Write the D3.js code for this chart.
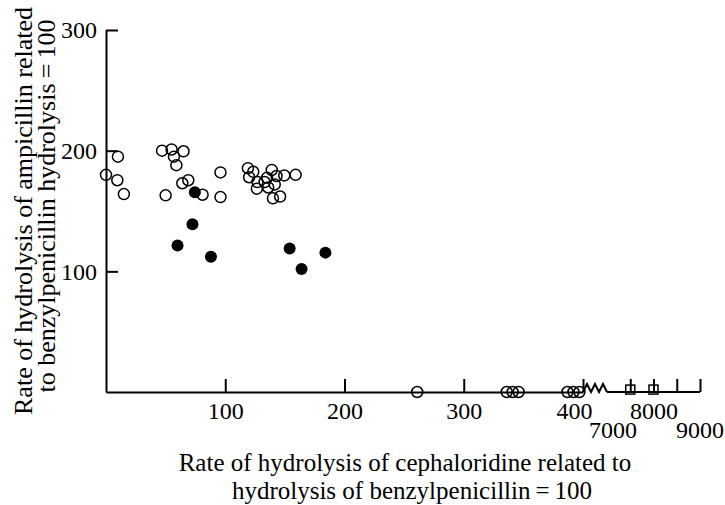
<!DOCTYPE html>
<html lang="en">
<head>
<meta charset="UTF-8">
<title>Ampicillin vs cephaloridine hydrolysis</title>
<script src="https://cdnjs.cloudflare.com/ajax/libs/d3/7.8.5/d3.min.js"></script>
<style>
    body { margin: 0; background: #fff; }
    svg { display: block; }
    .axis path, .axis line { stroke: #000; stroke-width: 2px; }
    .axis text { font-family: 'Liberation Serif', serif; fill: #000; }
    .title { font-family: 'Liberation Serif', serif; font-size: 26px; fill: #000; }
    .title.x { font-size: 25px; }
</style>
</head>
<body>
<svg id="chart" width="725" height="505"></svg>
<script>
// open circles: [cephaloridine rate, ampicillin rate]
const openPoints = [
    [10, 195], [0, 180], [9.5, 175.5], [15, 164],
    [47, 200], [55, 201], [65, 199.5], [57, 195], [59, 188],
    [64, 173], [69, 175.5], [50, 163], [81, 163.5],
    [96, 182], [96, 161.5],
    [119, 185.5], [123.5, 182.5], [120, 178], [127, 174], [126.5, 168.5],
    [139, 184], [135, 177.5], [143, 179], [136, 169.5], [141.5, 172],
    [149.5, 179.5], [159, 180], [140, 160.5], [146, 162], [133, 174]
];
// filled circles
const filledPoints = [
    [74.5, 165.5], [72.5, 139], [60, 121.5], [88, 112],
    [154, 119], [164, 102], [184, 115.5]
];
// open circles lying on the x axis
const axisPoints = [[261, 0], [336, 0], [341, 0], [346, 0], [387, 0], [392, 0], [397, 0]];
// squares beyond the axis break
const squarePoints = [[7500, 2], [8000, 2]];

const yTicks = [100, 200, 300];
const xTicks = [100, 200, 300, 400];
const xTicksHigh = [7500, 8000, 8500, 9000];
const xLabelsHighTop = [8000];
const xLabelsHighLow = [7000, 9000];

const svg = d3.select("#chart");

const y = d3.scaleLinear().domain([0, 300]).range([392, 30]);
const x = d3.scaleLinear().domain([0, 400]).range([106, 583]);
const xHigh = d3.scaleLinear().domain([7000, 9000]).range([607, 700]);

function styleAxis(g) {
    g.attr("font-family", "'Liberation Serif', serif").attr("font-size", 24);
}

// y axis, ticks pointing inward
svg.append("g")
    .attr("class", "axis")
    .attr("transform", `translate(${x(0)},0)`)
    .call(d3.axisLeft(y).tickValues(yTicks).tickSizeInner(-12).tickSizeOuter(0).tickPadding(9))
    .call(styleAxis);

// x axis, low segment
const xAxis = svg.append("g")
    .attr("class", "axis")
    .attr("transform", `translate(0,${y(0)})`)
    .call(d3.axisBottom(x).tickValues(xTicks).tickSizeInner(-13).tickSizeOuter(0).tickPadding(10))
    .call(styleAxis);
xAxis.selectAll(".tick text").attr("dx", d => d === 400 ? -9 : 0);

// x axis, high segment after the break
const xAxisHigh = svg.append("g")
    .attr("class", "axis")
    .attr("transform", `translate(0,${y(0)})`)
    .call(d3.axisBottom(xHigh).tickValues(xTicksHigh)
        .tickFormat(d => xLabelsHighTop.includes(d) ? d : "")
        .tickSizeInner(-13).tickSizeOuter(0).tickPadding(10))
    .call(styleAxis);
xAxisHigh.select(".domain").attr("d", `M${xHigh(7000)},0H${xHigh(9000)}`);

xAxisHigh.selectAll(".low-label")
    .data(xLabelsHighLow)
    .join("text")
    .attr("class", "low-label")
    .attr("fill", "#000")
    .attr("x", (d, i) => xHigh(d) + (i === 0 ? 6 : 0))
    .attr("y", 46)
    .attr("text-anchor", "middle")
    .text(d => d);

// zigzag break between the two segments
const x0 = x(400), x1 = xHigh(7000), w = (x1 - x0) / 6;
const zig = d3.path();
zig.moveTo(x0, 0);
for (let i = 1; i <= 6; i++) zig.lineTo(x0 + w * i, i === 6 ? 0 : (i % 2 ? -8 : 0));
xAxis.append("path")
    .attr("d", zig.toString())
    .attr("fill", "none")
    .attr("stroke", "#000")
    .attr("stroke-width", 1.5);

// markers
svg.append("g").selectAll("circle")
    .data(openPoints.concat(axisPoints))
    .join("circle")
    .attr("cx", d => x(d[0]))
    .attr("cy", d => y(d[1]))
    .attr("r", 5.5)
    .attr("fill", "none")
    .attr("stroke", "#000")
    .attr("stroke-width", 1.5);

svg.append("g").selectAll("circle")
    .data(filledPoints)
    .join("circle")
    .attr("cx", d => x(d[0]))
    .attr("cy", d => y(d[1]))
    .attr("r", 6)
    .attr("fill", "#000");

svg.append("g").selectAll("rect")
    .data(squarePoints)
    .join("rect")
    .attr("x", d => xHigh(d[0]) - 4.5)
    .attr("y", d => y(d[1]) - 4.5)
    .attr("width", 9)
    .attr("height", 9)
    .attr("fill", "none")
    .attr("stroke", "#000")
    .attr("stroke-width", 1.5);

// axis titles
const yTitle = svg.append("g");
yTitle.append("text").attr("class", "title")
    .attr("text-anchor", "middle")
    .attr("transform", "translate(32,211)rotate(-90)")
    .text("Rate of hydrolysis of ampicillin related");
yTitle.append("text").attr("class", "title")
    .attr("text-anchor", "middle")
    .attr("transform", "translate(55,206)rotate(-90)")
    .text("to benzylpenicillin hydrolysis\u2009=\u2009100");

svg.append("text").attr("class", "title x")
    .attr("text-anchor", "middle")
    .attr("x", 405).attr("y", 471)
    .text("Rate of hydrolysis of cephaloridine related to");
svg.append("text").attr("class", "title x")
    .attr("text-anchor", "middle")
    .attr("x", 412).attr("y", 499)
    .text("hydrolysis of benzylpenicillin\u2009=\u2009100");
</script>
</body>
</html>
